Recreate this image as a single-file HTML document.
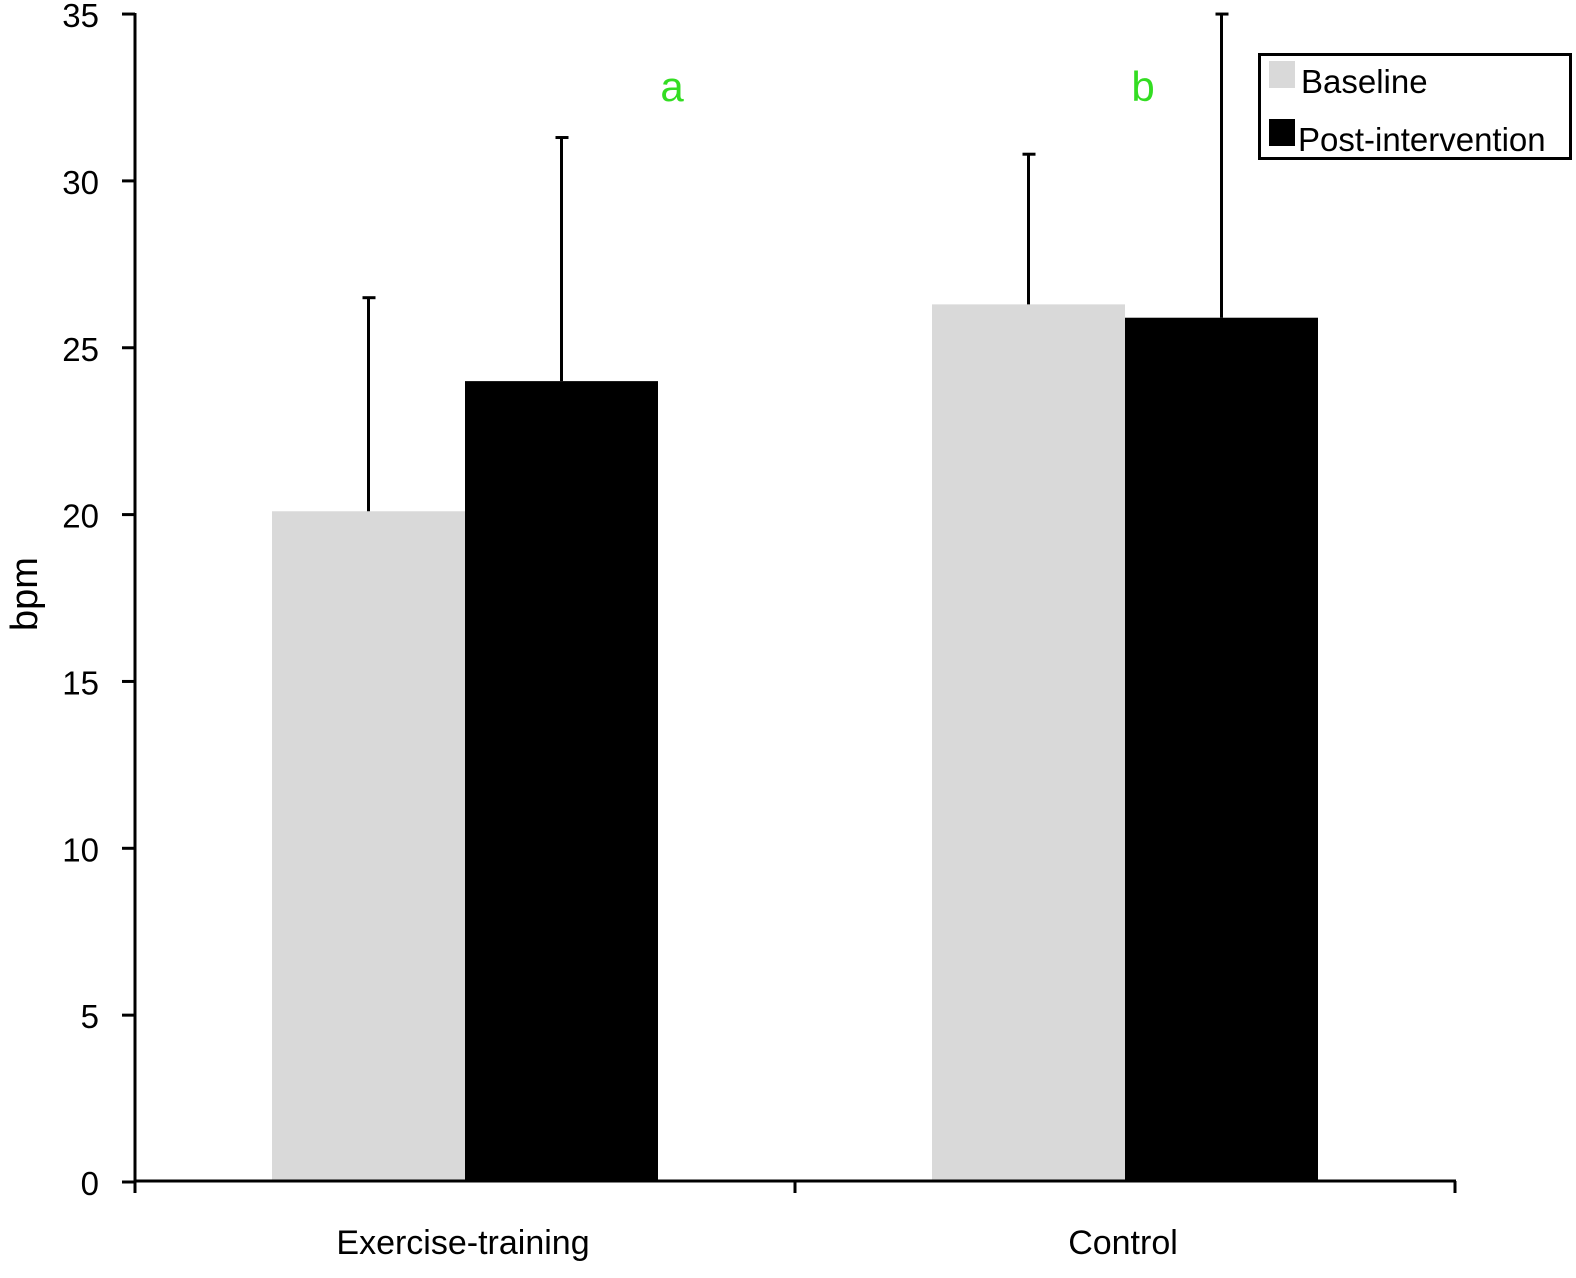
<!DOCTYPE html>
<html><head><meta charset="utf-8"><style>
html,body{margin:0;padding:0;background:#fff}
svg{display:block;font-family:"Liberation Sans",Arial,sans-serif}
</style></head><body>
<svg id="chart" width="1576" height="1278" xmlns="http://www.w3.org/2000/svg"></svg>
<script>
const categories = ["Exercise-training", "Control"];
const seriesNames = ["Baseline", "Post-intervention"];
const baselineValues = [20.1, 26.3];
const postValues = [24.0, 25.9];
const baselineErrors = [6.4, 4.5];
const postErrors = [7.3, 9.1];
const yTicks = [0, 5, 10, 15, 20, 25, 30, 35];
const sigLabels = ["a", "b"];

const NS = "http://www.w3.org/2000/svg";
const svg = document.getElementById("chart");
const y0px = 1182, pxPerUnit = 33.37;
const yScale = v => y0px - v * pxPerUnit;
const axisLeft = 135, axisRight = 1455;
const groupW = (axisRight - axisLeft) / categories.length;
const barW = 193;
const xGroupCenter = i => axisLeft + groupW * (i + 0.5);
const sigX = [672, 1143];

function el(tag, attrs, text) {
  const e = document.createElementNS(NS, tag);
  for (const k in attrs) e.setAttribute(k, attrs[k]);
  if (text !== undefined) e.textContent = text;
  svg.appendChild(e);
  return e;
}

const colors = ["#d9d9d9", "#000000"];
const allVals = [baselineValues, postValues];
const allErr = [baselineErrors, postErrors];
categories.forEach((c, i) => {
  const cx = xGroupCenter(i);
  for (let s = 0; s < 2; s++) {
    const x = cx - barW + s * barW;
    const v = allVals[s][i];
    const r = el("rect", {x: x, y: yScale(v), width: barW, height: yScale(0) - yScale(v), fill: colors[s]});
    
    
    const ex = x + barW / 2;
    const eTop = yScale(v + allErr[s][i]);
    const l = el("line", {x1: ex, x2: ex, y1: yScale(v), y2: eTop, stroke: "#000", "stroke-width": 3});
    
    
    const cap = el("line", {x1: ex - 6, x2: ex + 7, y1: eTop, y2: eTop, stroke: "#000", "stroke-width": 3});
    
    
  }
  const t = el("text", {x: sigX[i], y: 101, "font-size": 42, fill: "#33dd22", "text-anchor": "middle"}, sigLabels[i]);
  
  
  const xl = el("text", {x: cx - 2, y: 1254, "font-size": 34, "text-anchor": "middle"}, c);
  
  
});

const ya = el("line", {x1: axisLeft, x2: axisLeft, y1: 13, y2: 1182, stroke: "#000", "stroke-width": 3});


const xa = el("line", {x1: axisLeft - 1, x2: axisRight + 1, y1: 1181, y2: 1181, stroke: "#000", "stroke-width": 3});


[0, 1, 2].forEach(k => {
  const x = axisLeft + groupW * k;
  const t = el("line", {x1: x, x2: x, y1: 1181, y2: 1193, stroke: "#000", "stroke-width": 3});
  
  
});
yTicks.forEach(v => {
  const y = yScale(v);
  const t = el("line", {x1: 122, x2: axisLeft, y1: y, y2: y, stroke: "#000", "stroke-width": 3});
  
  
  const l = el("text", {x: 99, y: y + 13, "font-size": 33, "text-anchor": "end"}, String(v));
  
  
});
const yt = el("text", {x: 37, y: 594, "font-size": 38, "text-anchor": "middle", transform: "rotate(-90 37 594)"}, "bpm");



const lb = el("rect", {x: 1259.5, y: 54.5, width: 311, height: 104, fill: "#fff", stroke: "#000", "stroke-width": 3});


seriesNames.forEach((n, s) => {
  const y = 61 + s * 58;
  const sw = el("rect", {x: 1269, y: y, width: 26, height: 27, fill: colors[s]});
  
  
  const t = el("text", {x: s === 0 ? 1301 : 1298, y: y + 32, "font-size": 33}, n);
  
  
});
</script>
</body></html>
